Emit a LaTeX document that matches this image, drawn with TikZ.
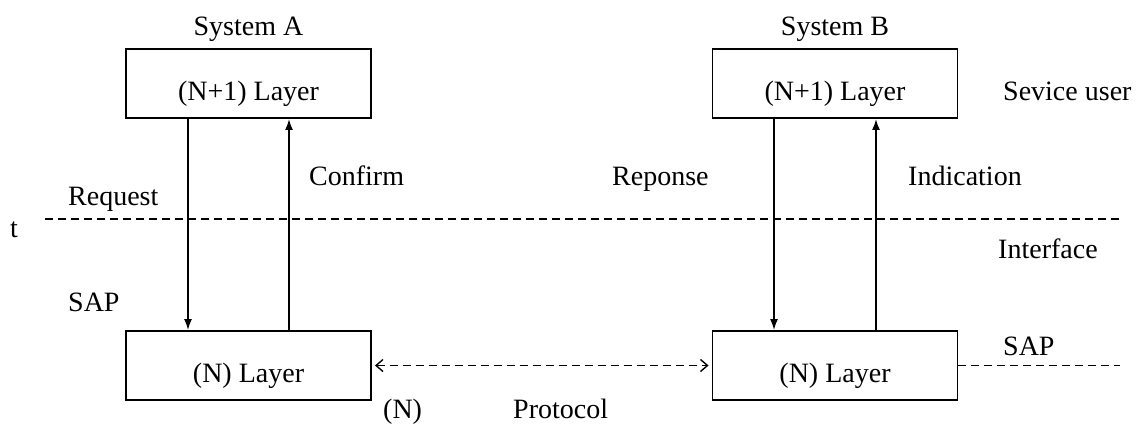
\documentclass[tikz,border=0pt]{standalone}
\usepackage{fontspec}
\setmainfont{Liberation Serif}
\usetikzlibrary{arrows.meta}
\begin{document}
\begin{tikzpicture}[x=1pt,y=-1pt,
  every node/.style={font=\fontsize{28}{33}\selectfont},
  layer/.style={draw,line width=1.9pt,minimum width=245pt,minimum height=69pt,
    inner sep=0pt,text height=33pt,text depth=0pt},
  lbl/.style={inner sep=0pt,anchor=base west},
  prim/.style={line width=1.7pt,-{Latex[length=11pt,width=8pt]}},
  sep/.style={line width=1.4pt,dash pattern=on 8pt off 5pt},
  proto/.style={sep,{Straight Barb[length=7pt,width=12pt]}-{Straight Barb[length=7pt,width=12pt]}}]
\useasboundingbox (0,0) rectangle (1140,424);

% layer boxes of the two systems
\node[layer] (upA) at (248.5,83.5) {(N+1) Layer};
\node[layer] (upB) at (835,83.5) {(N+1) Layer};
\node[layer] (loA) at (248.5,365.5) {(N) Layer};
\node[layer] (loB) at (835,365.5) {(N) Layer};

% system titles
\node[inner sep=0pt,anchor=base] (sysA) at (248.5,35) {System A};
\node[inner sep=0pt,anchor=base] (sysB) at (835,35) {System B};

% x positions of the service primitives
\coordinate (xreq) at (188,0);
\coordinate (xcon) at (289,0);
\coordinate (xres) at (774,0);
\coordinate (xind) at (876,0);

\draw[prim] (upA.south -| xreq) -- (loA.north -| xreq);
\draw[prim] (loA.north -| xcon) -- (upA.south -| xcon);
\draw[prim] (upB.south -| xres) -- (loB.north -| xres);
\draw[prim] (loB.north -| xind) -- (upB.south -| xind);

% interface line
\coordinate (tL) at (45,219);
\coordinate (tR) at (1120,219);
\draw[sep] (tL) -- (tR);

% peer protocol and SAP line
\draw[proto,shorten <=3pt,shorten >=3pt] (loA.east) -- (loB.west);
\coordinate (sapR) at (1120,365.5);
\draw[sep] (loB.east) -- (sapR);

% labels
\node[lbl] (user) at (1003,100) {Sevice user};
\node[lbl] (req) at (68,205) {Request};
\node[lbl] (con) at (309,185) {Confirm};
\node[lbl] (res) at (612,185) {Reponse};
\node[lbl] (ind) at (908,185) {Indication};
\node[lbl] (t) at (10,237) {t};
\node[lbl] (intf) at (998,258) {Interface};
\node[lbl] (sapA) at (68,311) {SAP};
\node[lbl] (sapB) at (1003,355) {SAP};
\node[lbl] (n) at (383,418) {(N)};
\node[lbl] (prot) at (513,418) {Protocol};
\end{tikzpicture}
\end{document}
